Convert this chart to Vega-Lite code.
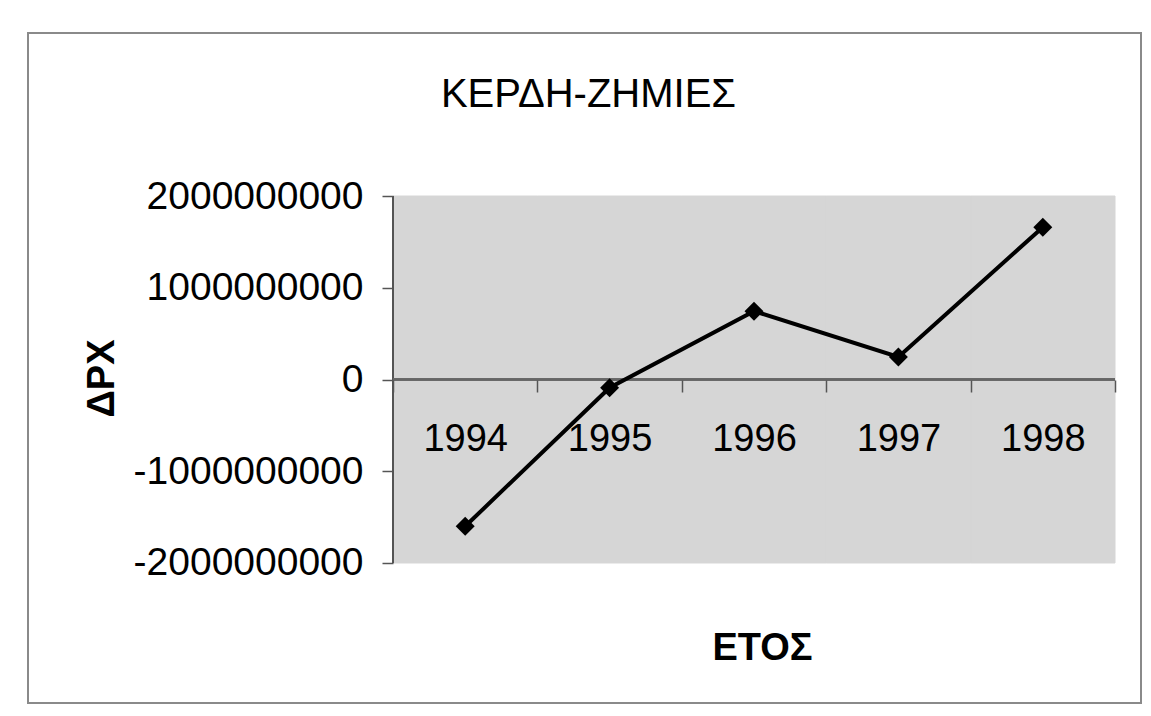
{
  "$schema": "https://vega.github.io/schema/vega-lite/v6.json",
  "width": 1113,
  "height": 670,
  "autosize": "none",
  "padding": {"left": 28, "top": 33, "right": 10, "bottom": 13},
  "background": "white",
  "config": {
    "view": {"stroke": "#8a8a8a", "strokeWidth": 2},
    "font": "Liberation Sans"
  },
  "title": {
    "text": "ΚΕΡΔΗ-ΖΗΜΙΕΣ",
    "font": "Liberation Sans",
    "fontSize": 40,
    "fontWeight": "normal",
    "color": "#000000",
    "anchor": "middle",
    "offset": -82,
    "dx": 4
  },
  "data": {
    "values": [
      {"year": "1994", "value": -1600000000},
      {"year": "1995", "value": -90000000},
      {"year": "1996", "value": 745000000},
      {"year": "1997", "value": 245000000},
      {"year": "1998", "value": 1660000000}
    ]
  },
  "layer": [
    {
      "mark": {"type": "rect", "fill": "#d6d6d6", "stroke": "#d6d6d6", "strokeWidth": 1},
      "encoding": {
        "x": {
          "field": "year",
          "type": "ordinal",
          "scale": {"type": "band", "paddingInner": 0, "paddingOuter": 0, "range": [365, 1087]},
          "axis": {
            "orient": "bottom",
            "offset": -323,
            "domain": false,
            "tickBand": "extent",
            "tickSize": 12,
            "tickColor": "#555555",
            "tickWidth": 1.5,
            "labelFontSize": 38,
            "labelColor": "#000000",
            "labelFont": "Liberation Sans",
            "labelPadding": 28,
            "labelAngle": 0,
            "labelLimit": 0,
            "title": "ΕΤΟΣ",
            "titleFont": "Liberation Sans",
            "titleFontSize": 38,
            "titleFontWeight": "bold",
            "titleColor": "#000000",
            "titleX": 734,
            "titleY": 268,
            "titleAlign": "center",
            "titleBaseline": "middle",
            "zindex": 1
          }
        },
        "y": {
          "datum": -2000000000,
          "type": "quantitative",
          "scale": {"domain": [-3525900000, 3776600000], "nice": false, "zero": false},
          "axis": {
            "orient": "left",
            "offset": -365,
            "domain": false,
            "grid": false,
            "values": [-2000000000, -1000000000, 0, 1000000000, 2000000000],
            "labelExpr": "replace(format(datum.value, 'd'), '\u2212', '-')",
            "tickSize": 11,
            "tickColor": "#555555",
            "tickWidth": 1.5,
            "labelFontSize": 39,
            "labelColor": "#000000",
            "labelFont": "Liberation Sans",
            "labelPadding": 19,
            "labelLimit": 0,
            "title": "ΔΡΧ",
            "titleFont": "Liberation Sans",
            "titleFontSize": 38,
            "titleFontWeight": "bold",
            "titleColor": "#000000",
            "titleAngle": -90,
            "titleX": -291,
            "titleY": 345,
            "titleAlign": "center",
            "titleBaseline": "middle",
            "zindex": 1
          }
        },
        "y2": {"datum": 2000000000}
      }
    },
    {
      "mark": {"type": "rule", "color": "#555555", "strokeWidth": 1.5},
      "encoding": {
        "x": {"datum": "1994", "type": "ordinal", "bandPosition": 0},
        "y": {"datum": -2000000000, "type": "quantitative"},
        "y2": {"datum": 2000000000}
      }
    },
    {
      "mark": {"type": "rule", "color": "#666666", "strokeWidth": 2},
      "encoding": {
        "x": {"datum": "1994", "type": "ordinal", "bandPosition": 0},
        "x2": {"datum": "1998", "bandPosition": 1},
        "y": {"datum": 0, "type": "quantitative"}
      }
    },
    {
      "mark": {"type": "line", "color": "#000000", "strokeWidth": 4},
      "encoding": {
        "x": {"field": "year", "type": "ordinal"},
        "y": {"field": "value", "type": "quantitative"}
      }
    },
    {
      "mark": {"type": "point", "shape": "diamond", "filled": true, "color": "#000000", "opacity": 1, "size": 360},
      "encoding": {
        "x": {"field": "year", "type": "ordinal"},
        "y": {"field": "value", "type": "quantitative"}
      }
    }
  ]
}
